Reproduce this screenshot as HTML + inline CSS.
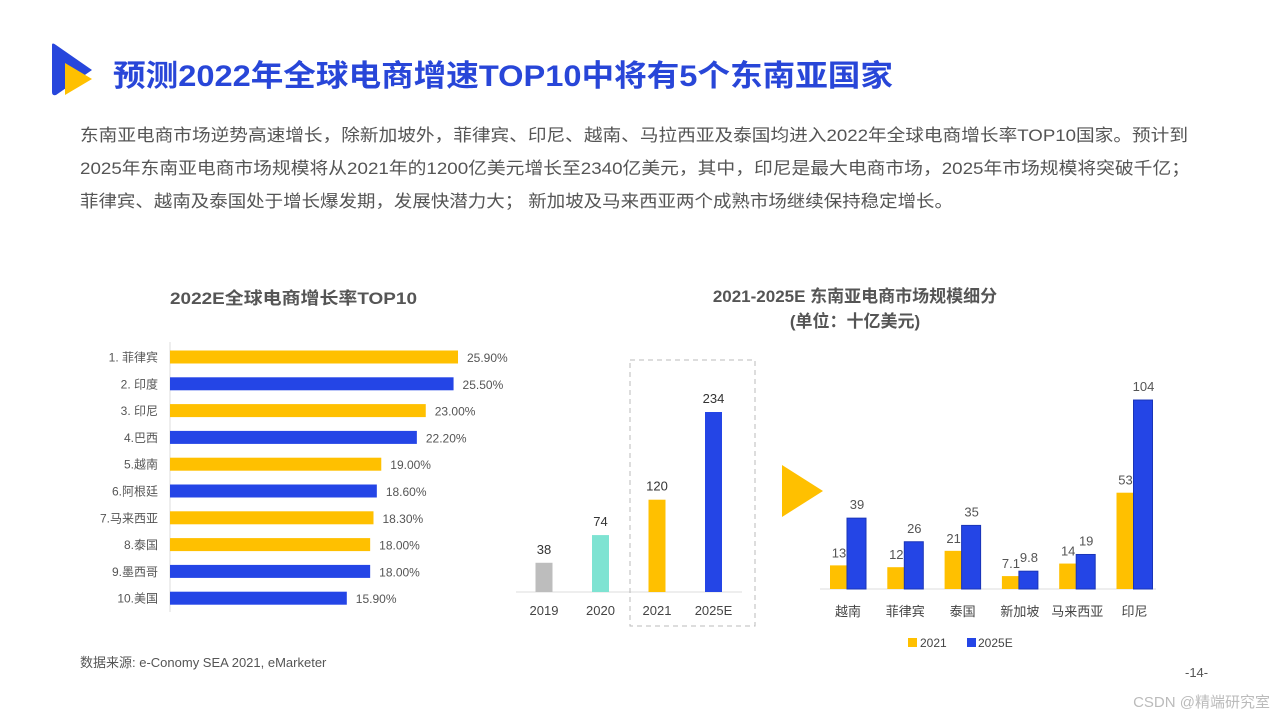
<!DOCTYPE html>
<html><head><meta charset="utf-8">
<style>
body{margin:0;width:1280px;height:720px;background:#fff;overflow:hidden;font-family:"Liberation Sans","Noto Sans CJK SC",sans-serif;}
svg text{font-family:"Liberation Sans","Noto Sans CJK SC",sans-serif;}
</style></head>
<body>
<svg id="s" width="1280" height="720" viewBox="0 0 1280 720">
<g>
<path d="M52 45 L52 92 Q52 96 56 95 L92 70 L56 45 Q52 42 52 45Z" fill="#2746dc"/>
<path d="M65 63 L65 95 L92 79Z" fill="#ffc000"/>
</g>
<text x="113" y="86" font-size="30" font-weight="bold" fill="#2846d8" textLength="780" lengthAdjust="spacingAndGlyphs">预测2022年全球电商增速TOP10中将有5个东南亚国家</text>
<g font-size="17" fill="#555">
<text x="80" y="141" textLength="1108" lengthAdjust="spacingAndGlyphs">东南亚电商市场逆势高速增长，除新加坡外，菲律宾、印尼、越南、马拉西亚及泰国均进入2022年全球电商增长率TOP10国家。预计到</text>
<text x="80" y="174" textLength="1110" lengthAdjust="spacingAndGlyphs">2025年东南亚电商市场规模将从2021年的1200亿美元增长至2340亿美元，其中，印尼是最大电商市场，2025年市场规模将突破千亿；</text>
<text x="80" y="207" textLength="873" lengthAdjust="spacingAndGlyphs">菲律宾、越南及泰国处于增长爆发期，发展快潜力大； 新加坡及马来西亚两个成熟市场继续保持稳定增长。</text>
</g>
<text x="170" y="304" font-size="17" font-weight="bold" fill="#555" textLength="247" lengthAdjust="spacingAndGlyphs">2022E全球电商增长率TOP10</text>
<text x="855" y="302" font-size="17" font-weight="bold" fill="#555" text-anchor="middle">2021-2025E 东南亚电商市场规模细分</text>
<text x="855" y="327" font-size="17" font-weight="bold" fill="#555" text-anchor="middle">(单位：十亿美元)</text>
<line x1="170" y1="342" x2="170" y2="612" stroke="#ddd"/>
<line x1="516" y1="592" x2="742" y2="592" stroke="#ddd"/>
<rect x="630" y="360" width="125" height="266" fill="none" stroke="#bbb" stroke-dasharray="5,4"/>
<path d="M782 465 L823 491 L782 517Z" fill="#ffc000"/>
<line x1="820" y1="589" x2="1156" y2="589" stroke="#ddd"/>
<text x="80" y="667" font-size="13" fill="#555">数据来源: e-Conomy SEA 2021, eMarketer</text>
<text x="1185" y="677" font-size="13" fill="#555">-14-</text>
<text x="1270" y="707" font-size="15" fill="#bbb" text-anchor="end">CSDN @精端研究室</text>
<g id="g1"></g><g id="g2"></g><g id="g3"></g>
</svg>
<script>
const topCountries=["1. 菲律宾","2. 印度","3. 印尼","4.巴西","5.越南","6.阿根廷","7.马来西亚","8.泰国","9.墨西哥","10.美国"];
const topRates=[25.9,25.5,23.0,22.2,19.0,18.6,18.3,18.0,18.0,15.9];
const topIsSEA=[1,0,1,0,1,0,1,1,0,0];
const years=["2019","2020","2021","2025E"];
const yearValues=[38,74,120,234];
const yearColors=["#bdbdbd","#7ee3d2","#ffc000","#2445e6"];
const seaCountries=["越南","菲律宾","泰国","新加坡","马来西亚","印尼"];
const sea2021=[13,12,21,7.1,14,53];
const sea2025=[39,26,35,9.8,19,104];
const NS="http://www.w3.org/2000/svg";
function mk(p,t,a,txt){const e=document.createElementNS(NS,t);for(const k in a)e.setAttribute(k,a[k]);if(txt!==undefined)e.textContent=txt;p.appendChild(e);return e;}
// chart 1
const g1=document.getElementById('g1');
const x1=v=>170+v*11.12, y1=i=>357+i*26.8;
topCountries.forEach((c,i)=>{
 let b=mk(g1,'rect',{x:170,y:y1(i)-6.5,width:x1(topRates[i])-170,height:13,fill:topIsSEA[i]?"#ffc000":"#2445e6"});
 
 
 let l=mk(g1,'text',{x:158,y:y1(i)+4.5,'font-size':12,fill:'#555','text-anchor':'end'},c);
 
 
 let v=mk(g1,'text',{x:x1(topRates[i])+9,y:y1(i)+5,'font-size':12,fill:'#555'},topRates[i].toFixed(2)+'%');
 
 
});
// chart 2
const g2=document.getElementById('g2');
const x2=i=>544+i*56.5, y2=v=>592-v*0.7692;
years.forEach((yr,i)=>{
 let b=mk(g2,'rect',{x:x2(i)-8.5,y:y2(yearValues[i]),width:17,height:592-y2(yearValues[i]),fill:yearColors[i]});
 
 
 let v=mk(g2,'text',{x:x2(i),y:y2(yearValues[i])-9,'font-size':13,fill:'#333','text-anchor':'middle'},yearValues[i]);
 
 
 let l=mk(g2,'text',{x:x2(i),y:615,'font-size':13,fill:'#444','text-anchor':'middle'},yr);
 
 
});
// chart 3
const g3=document.getElementById('g3');
const x3=i=>848+i*57.3, y3=v=>589-v*1.817;
seaCountries.forEach((c,i)=>{
 let a=mk(g3,'rect',{x:x3(i)-18,y:y3(sea2021[i]),width:17,height:589-y3(sea2021[i]),fill:"#ffc000"});
 
 
 let b=mk(g3,'rect',{x:x3(i)-1,y:y3(sea2025[i]),width:19,height:589-y3(sea2025[i]),fill:"#2445e6",stroke:"#1a35b8","stroke-width":1});
 
 
 let va=mk(g3,'text',{x:x3(i)-9,y:y3(sea2021[i])-8,'font-size':13,fill:'#555','text-anchor':'middle'},sea2021[i]);
 
 
 let vb=mk(g3,'text',{x:x3(i)+9,y:y3(sea2025[i])-9,'font-size':13,fill:'#555','text-anchor':'middle'},sea2025[i]);
 
 
 let l=mk(g3,'text',{x:x3(i),y:616,'font-size':13,fill:'#444','text-anchor':'middle'},c);
 
 
});
let lg=mk(g3,'g',{});


mk(lg,'rect',{x:908,y:638,width:9,height:9,fill:'#ffc000'});
mk(lg,'text',{x:920,y:647,'font-size':12,fill:'#444'},'2021');
mk(lg,'rect',{x:967,y:638,width:9,height:9,fill:'#2445e6'});
mk(lg,'text',{x:978,y:647,'font-size':12,fill:'#444'},'2025E');
</script>
</body></html>
